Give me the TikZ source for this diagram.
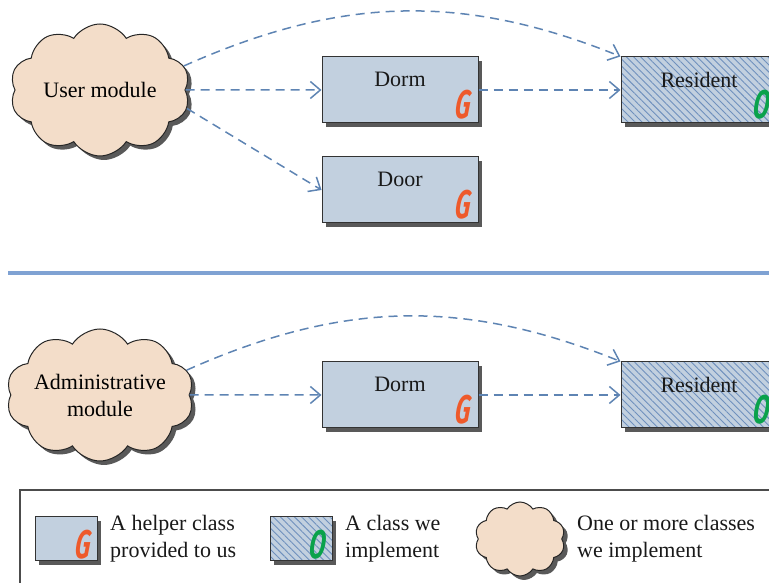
\documentclass[tikz,border=0pt]{standalone}
\usepackage{fontspec}
\setmainfont{Liberation Serif}
\newfontfamily\markfont{Fira Sans}
\usetikzlibrary{shapes.symbols,shadows,patterns.meta,arrows.meta}
\definecolor{boxblue}{HTML}{C2D0DF}
\definecolor{hatchblue}{HTML}{6F90BD}
\definecolor{cloudfill}{HTML}{F3DDC9}
\definecolor{arrowblue}{HTML}{5E84B3}
\definecolor{gred}{HTML}{EE5A2B}
\definecolor{ogreen}{HTML}{0AA24B}
\definecolor{sepblue}{HTML}{7FA2D3}
\begin{document}
\begin{tikzpicture}[
  x=1pt, y=1pt,
  font=\rmfamily\fontsize{22}{27}\selectfont,
  shd/.style={drop shadow={shadow xshift=4pt, shadow yshift=-4pt, fill=black!65, opacity=1}},
  cls/.style={draw=black!80, line width=1pt, fill=boxblue, shd,
              minimum width=156, minimum height=66, inner sep=0pt},
  impl/.style={cls, postaction={draw=black!80, line width=1pt,
              pattern={Lines[angle=-45, distance=5pt, line width=0.9pt]}, pattern color=hatchblue}},
  mod/.style={cloud, cloud puffs=10, cloud puff arc=115, cloud ignores aspect,
              draw=black!85, line width=1pt, fill=cloudfill, shd, align=center, inner sep=0pt,
              minimum width=180, minimum height=132},
  nm/.style={inner sep=0pt, text=black!90},
  gmark/.style={font=\markfont\bfseries\itshape\fontsize{40}{40}\selectfont, text=gred,
                inner sep=0pt, xscale=0.6, xslant=0.18, transform shape},
  omark/.style={gmark, text=ogreen},
  legtxt/.style={align=left, anchor=west, inner sep=0pt, text=black!90},
  dep/.style={draw=arrowblue, line width=1.5pt, dash pattern=on 9pt off 6pt,
              -{Straight Barb[length=10pt, width=17pt, line width=1.5pt]}}
]
  \useasboundingbox (0,0) rectangle (769,583);
  %% --- upper part: user module ---
  \node[mod] (user) at (100,493) {User module};
  \node[cls] (dorm) at (400,493) {};
  \node[cls] (door) at (400,393) {};
  \node[impl] (res) at (699,493) {};
  \node[nm] (dormname) at ([yshift=-23pt]dorm.north) {Dorm};
  \node[nm] (doorname) at ([yshift=-23pt]door.north) {Door};
  \node[nm] (resname) at ([yshift=-23pt]res.north) {Resident};
  \node[gmark] (dormg) at ([shift={(-15pt,19pt)}]dorm.south east) {G};
  \node[gmark] (doorg) at ([shift={(-15pt,19pt)}]door.south east) {G};
  \node[omark] (reso) at ([shift={(-15pt,19pt)}]res.south east) {O};
  \draw[dep] (user.east) -- (dorm.west);
  \draw[dep] (user.348) -- (door.west);
  \draw[dep] (user.16) to[out=24, in=158] (res.north west);
  \draw[dep] (dorm.east) -- (res.west);
  %% --- separator ---
  \draw[sepblue, line width=4.5pt] (8,310) -- (780,310);
  %% --- lower part: administrative module ---
  \node[mod] (admin) at (100,188) {Administrative\\module};
  \node[cls] (dormb) at (400,188) {};
  \node[impl] (resb) at (699,188) {};
  \node[nm] (dormbname) at ([yshift=-23pt]dormb.north) {Dorm};
  \node[nm] (resbname) at ([yshift=-23pt]resb.north) {Resident};
  \node[gmark] (dormbg) at ([shift={(-15pt,19pt)}]dormb.south east) {G};
  \node[omark] (resbo) at ([shift={(-15pt,19pt)}]resb.south east) {O};
  \draw[dep] (admin.east) -- (dormb.west);
  \draw[dep] (admin.16) to[out=24, in=158] (resb.north west);
  \draw[dep] (dormb.east) -- (resb.west);
  %% --- legend ---
  \draw[black!70, line width=1.2pt] (20,-10) rectangle (790,93);
  \node[cls, minimum width=62, minimum height=44] (keyhelp) at (66,44) {};
  \node[gmark] (keyg) at ([shift={(-14pt,17pt)}]keyhelp.south east) {G};
  \node[legtxt] (helptxt) at (110,44) {A helper class\\provided to us};
  \node[impl, minimum width=62, minimum height=44] (keyimpl) at (301,44) {};
  \node[omark] (keyo) at ([shift={(-14pt,17pt)}]keyimpl.south east) {O};
  \node[legtxt] (impltxt) at (345,44) {A class we\\implement};
  \node[mod, minimum width=90, minimum height=74] (keymod) at (520,44) {};
  \node[legtxt] (modtxt) at (577,44) {One or more classes\\we implement};
\end{tikzpicture}
\end{document}
